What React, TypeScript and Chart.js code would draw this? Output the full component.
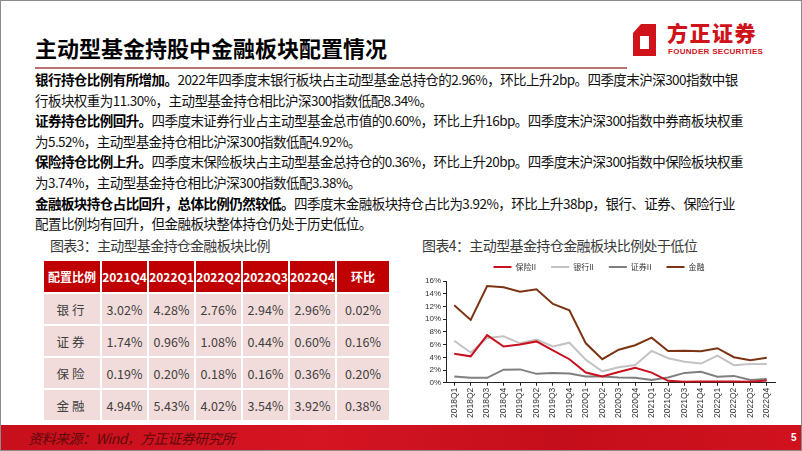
import React, { useEffect, useRef } from "react";
import { Chart, registerables } from "chart.js";
Chart.register(...registerables);

const FONT = '"Noto Sans CJK SC", "Noto Sans", sans-serif';

const quarters = [
  "2018Q1", "2018Q2", "2018Q3", "2018Q4",
  "2019Q1", "2019Q2", "2019Q3", "2019Q4",
  "2020Q1", "2020Q2", "2020Q3", "2020Q4",
  "2021Q1", "2021Q2", "2021Q3", "2021Q4",
  "2022Q1", "2022Q2", "2022Q3", "2022Q4",
];
const insurance = [4.55, 4.15, 7.5, 5.7, 6.0, 6.5, 5.1, 3.7, 1.6, 0.97, 1.7, 2.35, 1.6, 0.3, 0.15, 0.19, 0.2, 0.18, 0.16, 0.36];
const bank = [6.6, 4.75, 7.05, 7.3, 6.2, 6.8, 5.7, 6.3, 3.6, 1.8, 2.45, 2.8, 5.0, 3.85, 3.3, 3.02, 4.28, 2.76, 2.94, 2.96];
const securities = [0.97, 0.77, 0.77, 2.05, 2.1, 1.4, 1.55, 1.45, 0.97, 0.97, 0.82, 0.77, 0.45, 0.82, 1.55, 1.74, 0.96, 1.08, 0.44, 0.6];
const finance = [12.17, 9.87, 15.2, 15.0, 14.3, 14.7, 12.4, 11.4, 6.2, 3.7, 5.2, 5.9, 7.1, 5.0, 5.05, 4.94, 5.43, 4.02, 3.54, 3.92];
const seriesNames = ["保险II", "银行II", "证券II", "金融"];
const seriesColors = ["#C8101E", "#C3C3C3", "#7F7F7F", "#7B3413"];

const tableHeader = ["配置比例", "2021Q4", "2022Q1", "2022Q2", "2022Q3", "2022Q4", "环比"];
const tableRowNames = ["银行", "证券", "保险", "金融"];
const tableBank = ["3.02%", "4.28%", "2.76%", "2.94%", "2.96%", "0.02%"];
const tableSec = ["1.74%", "0.96%", "1.08%", "0.44%", "0.60%", "0.16%"];
const tableIns = ["0.19%", "0.20%", "0.18%", "0.16%", "0.36%", "0.20%"];
const tableFin = ["4.94%", "5.43%", "4.02%", "3.54%", "3.92%", "0.38%"];
const tableRows = [tableBank, tableSec, tableIns, tableFin];

const bodyLines: Array<Array<{ t: string; b?: boolean }>> = [
  [{ t: "银行持仓比例有所增加。", b: true }, { t: "2022年四季度末银行板块占主动型基金总持仓的2.96%，环比上升2bp。四季度末沪深300指数中银" }],
  [{ t: "行板块权重为11.30%，主动型基金持仓相比沪深300指数低配8.34%。" }],
  [{ t: "证券持仓比例回升。", b: true }, { t: "四季度末证券行业占主动型基金总市值的0.60%，环比上升16bp。四季度末沪深300指数中券商板块权重" }],
  [{ t: "为5.52%，主动型基金持仓相比沪深300指数低配4.92%。" }],
  [{ t: "保险持仓比例上升。", b: true }, { t: "四季度末保险板块占主动型基金总持仓的0.36%，环比上升20bp。四季度末沪深300指数中保险板块权重" }],
  [{ t: "为3.74%，主动型基金持仓相比沪深300指数低配3.38%。" }],
  [{ t: "金融板块持仓占比回升，总体比例仍然较低。", b: true }, { t: "四季度末金融板块持仓占比为3.92%，环比上升38bp，银行、证券、保险行业" }],
  [{ t: "配置比例均有回升，但金融板块整体持仓仍处于历史低位。" }],
];

function LineChart() {
  const ref = useRef<HTMLCanvasElement | null>(null);
  useEffect(() => {
    if (!ref.current) return;
    const data = [insurance, bank, securities, finance];
    const chart = new Chart(ref.current, {
      type: "line",
      data: {
        labels: quarters,
        datasets: seriesNames.map((n, i) => ({
          label: n,
          data: data[i],
          borderColor: seriesColors[i],
          backgroundColor: seriesColors[i],
          borderWidth: 2,
          pointRadius: 0,
          tension: 0,
          fill: false,
        })),
      },
      options: {
        animation: false,
        responsive: false,
        maintainAspectRatio: false,
        devicePixelRatio: 1,
        layout: { padding: { left: 8, right: 10, top: 0, bottom: 0 } },
        plugins: {
          legend: {
            position: "top",
            labels: {
              usePointStyle: true,
              pointStyle: "line",
              pointStyleWidth: 18,
              boxHeight: 8,
              padding: 15,
              color: "#333",
              font: { size: 8, family: FONT },
            },
          },
          tooltip: { enabled: false },
        },
        scales: {
          x: {
            offset: true,
            grid: { drawOnChartArea: false, drawTicks: true, tickLength: 3, color: "#222" },
            border: { color: "#222", width: 1 },
            ticks: {
              autoSkip: false,
              minRotation: 90,
              maxRotation: 90,
              padding: 2,
              color: "#333",
              font: { size: 8.5, family: '"Liberation Sans", Arial, sans-serif' },
            },
          },
          y: {
            min: 0,
            max: 16,
            grid: { drawOnChartArea: false, drawTicks: true, tickLength: 3, color: "#222" },
            border: { color: "#222", width: 1 },
            ticks: {
              stepSize: 2,
              padding: 2,
              color: "#333",
              font: { size: 8, family: '"Liberation Sans", Arial, sans-serif' },
              callback: (v: any) => v + "%",
            },
          },
        },
      },
    });
    return () => chart.destroy();
  }, []);
  return (
    <canvas
      ref={ref}
      width={370}
      height={172}
      style={{ position: "absolute", left: 415, top: 248, width: 370, height: 172 }}
    />
  );
}

function Table() {
  const cols = "56px 45px 45px 45px 45px 45px 52px";
  return (
    <div
      style={{
        position: "absolute",
        left: 44,
        top: 261,
        width: 344,
        display: "grid",
        gridTemplateColumns: cols,
        gridTemplateRows: "31px 30px 30px 30px 30px",
        gap: 2,
        background: "#fff",
        fontFamily: FONT,
      }}
    >
      {tableHeader.map((h, i) => (
        <div
          key={"h" + i}
          style={{
            background: "#C00000",
            color: "#fff",
            fontWeight: 700,
            fontSize: 12,
            display: "flex",
            alignItems: "center",
            justifyContent: "center",
          }}
        >
          {h}
        </div>
      ))}
      {tableRows.map((row, r) => (
        <React.Fragment key={"r" + r}>
          <div
            style={{
              background: "#F2DCDB",
              color: "#404040",
              fontSize: 12.5,
              display: "flex",
              alignItems: "center",
              justifyContent: "center",
              letterSpacing: 3,
            }}
          >
            {tableRowNames[r]}
          </div>
          {row.map((v, c) => (
            <div
              key={c}
              style={{
                background: "#F2DCDB",
                color: "#404040",
                fontSize: 12.5,
                display: "flex",
                alignItems: "center",
                justifyContent: "center",
              }}
            >
              {v}
            </div>
          ))}
        </React.Fragment>
      ))}
    </div>
  );
}

export default function App() {
  return (
    <div
      style={{
        position: "fixed",
        left: 0,
        top: 0,
        width: 802,
        height: 451,
        background: "#fff",
        overflow: "hidden",
        fontFamily: FONT,
      }}
    >
      {/* Title */}
      <div
        style={{
          position: "absolute",
          left: 35,
          top: 32,
          fontSize: 22,
          fontWeight: 700,
          color: "#000",
          lineHeight: "30px",
          whiteSpace: "nowrap",
        }}
      >
        主动型基金持股中金融板块配置情况
      </div>
      <div style={{ position: "absolute", left: 35, top: 67, width: 592, height: 2, background: "#B87070" }} />

      {/* Logo */}
      <svg style={{ position: "absolute", left: 630, top: 20 }} width={30} height={40} viewBox="0 0 30 40">
        <path
          fillRule="evenodd"
          fill="#D0121B"
          d="M3 13 L11 4 L26 4 L26 36 L3 36 Z M10 16 L10 29 L19 29 L19 16 Z"
        />
      </svg>
      <div
        style={{
          position: "absolute",
          left: 667,
          top: 20,
          fontSize: 21,
          fontWeight: 900,
          color: "#D0121B",
          lineHeight: "24px",
          height: 24,
          whiteSpace: "nowrap",
          letterSpacing: 1.5,
        }}
      >
        方正证券
      </div>
      <div
        style={{
          position: "absolute",
          left: 668,
          top: 47,
          fontSize: 8,
          fontWeight: 700,
          color: "#D0121B",
          lineHeight: "10px",
          whiteSpace: "nowrap",
          fontFamily: '"Liberation Sans Narrow", "Liberation Sans", Arial, sans-serif',
          letterSpacing: 0.3,
        }}
      >
        FOUNDER SECURITIES
      </div>

      {/* Body text */}
      {bodyLines.map((segs, i) => (
        <div
          key={i}
          style={{
            position: "absolute",
            left: 35,
            top: 79 + i * 20.6 - 10,
            height: 20,
            lineHeight: "20px",
            fontSize: 13.5,
            color: "#111",
            whiteSpace: "nowrap",
            letterSpacing: -0.55,
          }}
        >
          {segs.map((s, j) => (
            <span key={j} style={{ fontWeight: s.b ? 700 : 400, color: s.b ? "#000" : "#111" }}>
              {s.t}
            </span>
          ))}
        </div>
      ))}

      {/* Chart titles */}
      <div
        style={{
          position: "absolute",
          left: 50,
          top: 235,
          fontSize: 14,
          color: "#3a3a3a",
          lineHeight: "20px",
          whiteSpace: "nowrap",
          letterSpacing: -0.7,
        }}
      >
        图表3：主动型基金持仓金融板块比例
      </div>
      <div
        style={{
          position: "absolute",
          left: 422,
          top: 235,
          fontSize: 14,
          color: "#3a3a3a",
          lineHeight: "20px",
          whiteSpace: "nowrap",
          letterSpacing: -0.6,
        }}
      >
        图表4：主动型基金持仓金融板块比例处于低位
      </div>

      <Table />
      <LineChart />

      {/* Footer */}
      <div
        style={{
          position: "absolute",
          left: 0,
          top: 425,
          width: 802,
          height: 26,
          background: "linear-gradient(90deg, #C80F1C 0%, #D41522 40%, #C50E1B 70%, #D0121E 100%)",
        }}
      />
      <div
        style={{
          position: "absolute",
          left: 28,
          top: 428,
          fontSize: 14,
          fontStyle: "italic",
          color: "#5E0A0A",
          lineHeight: "20px",
          whiteSpace: "nowrap",
          letterSpacing: -0.5,
        }}
      >
        资料来源：Wind，方正证券研究所
      </div>
      <div
        style={{
          position: "absolute",
          left: 791,
          top: 431,
          fontSize: 10,
          fontWeight: 700,
          color: "#fff",
          lineHeight: "14px",
          fontFamily: '"Liberation Sans", Arial, sans-serif',
        }}
      >
        5
      </div>

      {/* Frame */}
      <div
        style={{
          position: "absolute",
          left: 0,
          top: 0,
          width: 802,
          height: 451,
          boxSizing: "border-box",
          border: "1px solid #8C8C8C",
          pointerEvents: "none",
        }}
      />
    </div>
  );
}
